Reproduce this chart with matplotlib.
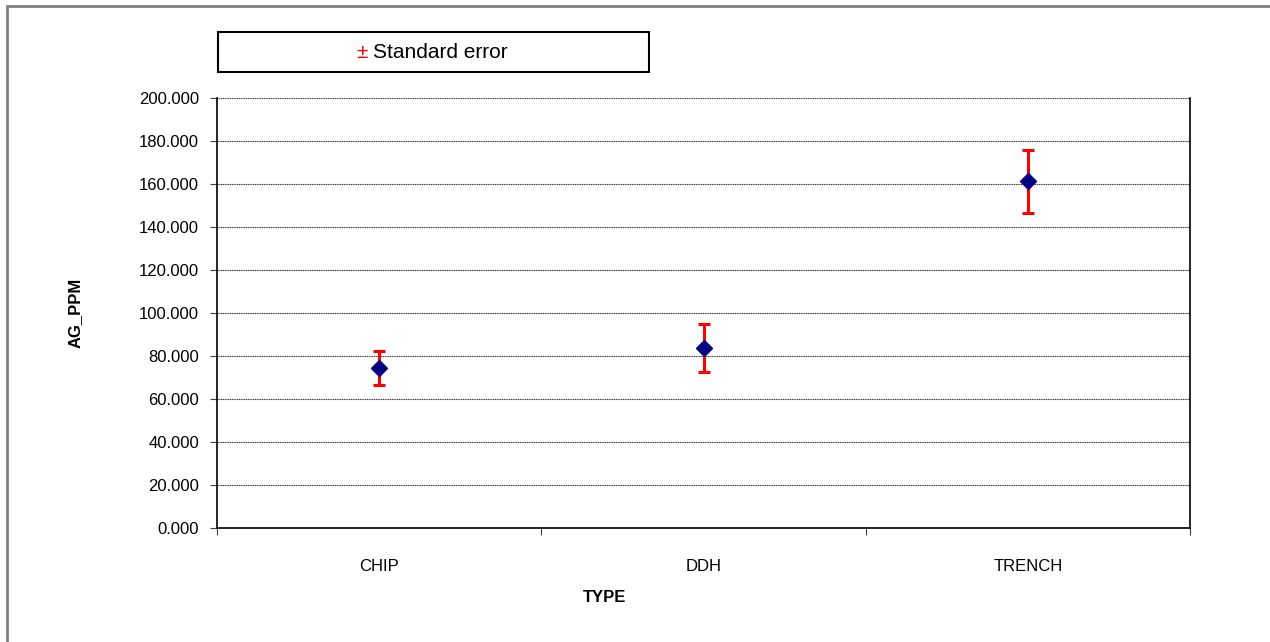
import matplotlib

matplotlib.use("Agg")
import matplotlib.pyplot as plt
from matplotlib.patches import Rectangle

plt.rcParams["font.family"] = ["Liberation Sans", "DejaVu Sans"]

categories = ["CHIP", "DDH", "TRENCH"]
means = [74.6, 83.8, 161.2]
std_errors = [7.9, 11.2, 14.8]
y_ticks = [0, 20, 40, 60, 80, 100, 120, 140, 160, 180, 200]

W, H = 1270, 642


def fx(px):
    return px / W


def fy(py):
    return 1 - py / H


fig = plt.figure(figsize=(W / 100, H / 100), dpi=100, facecolor="white")

# outer chart border (runs off the right/bottom edge)
fig.patches.append(Rectangle((fx(7), fy(700)), fx(1300), 694 / H,
                             transform=fig.transFigure, fill=False,
                             edgecolor="#808080", linewidth=2))

ax = fig.add_axes([fx(217), fy(528), fx(1190) - fx(217), fy(98) - fy(528)])

x = [i + 0.5 for i in range(len(categories))]
ax.errorbar(x, means, yerr=std_errors, fmt="none", ecolor="#ff0000",
            elinewidth=2.2, capsize=4.5, capthick=2.2, zorder=3)
ax.plot(x, means, linestyle="none", marker="D", markersize=8,
        color="#000080", zorder=4)

ax.set_xlim(0, len(categories))
ax.set_ylim(0, 200)
ax.set_yticks(y_ticks)
ax.set_yticklabels([f"{v:.3f}" for v in y_ticks], fontsize=12)
ax.yaxis.grid(True, linestyle=(0, (1, 0.6)), color="#303030", linewidth=0.8)
ax.set_axisbelow(True)

ax.set_xticks(range(len(categories) + 1))
ax.set_xticklabels([])
ax.set_xticks(x, minor=True)
ax.set_xticklabels(categories, minor=True, fontsize=12)
ax.tick_params(axis="x", which="minor", length=0, pad=22)
ax.tick_params(axis="both", which="major", direction="out", length=5, width=0.8, color="#404040")
ax.tick_params(axis="y", pad=8)

for side in ["left", "right", "bottom"]:
    ax.spines[side].set_linewidth(1.2)
    ax.spines[side].set_color("black")
ax.spines["top"].set_visible(False)

fig.text(fx(75), fy(313), "AG_PPM", rotation=90, fontsize=12, fontweight="bold",
         ha="center", va="center")
fig.text(fx(605), fy(597), "TYPE", fontsize=12, fontweight="bold",
         ha="center", va="center")

# legend box
fig.patches.append(Rectangle((fx(218), fy(72)), fx(649) - fx(218), fy(32) - fy(72),
                             transform=fig.transFigure, fill=False,
                             edgecolor="black", linewidth=1.5))
fig.text(fx(368), fy(53), "±", color="#ff0000", fontsize=15, ha="right", va="center")
fig.text(fx(373), fy(53), "Standard error", color="black", fontsize=15, ha="left", va="center")

fig.savefig("out.png", dpi=100, facecolor="white")
